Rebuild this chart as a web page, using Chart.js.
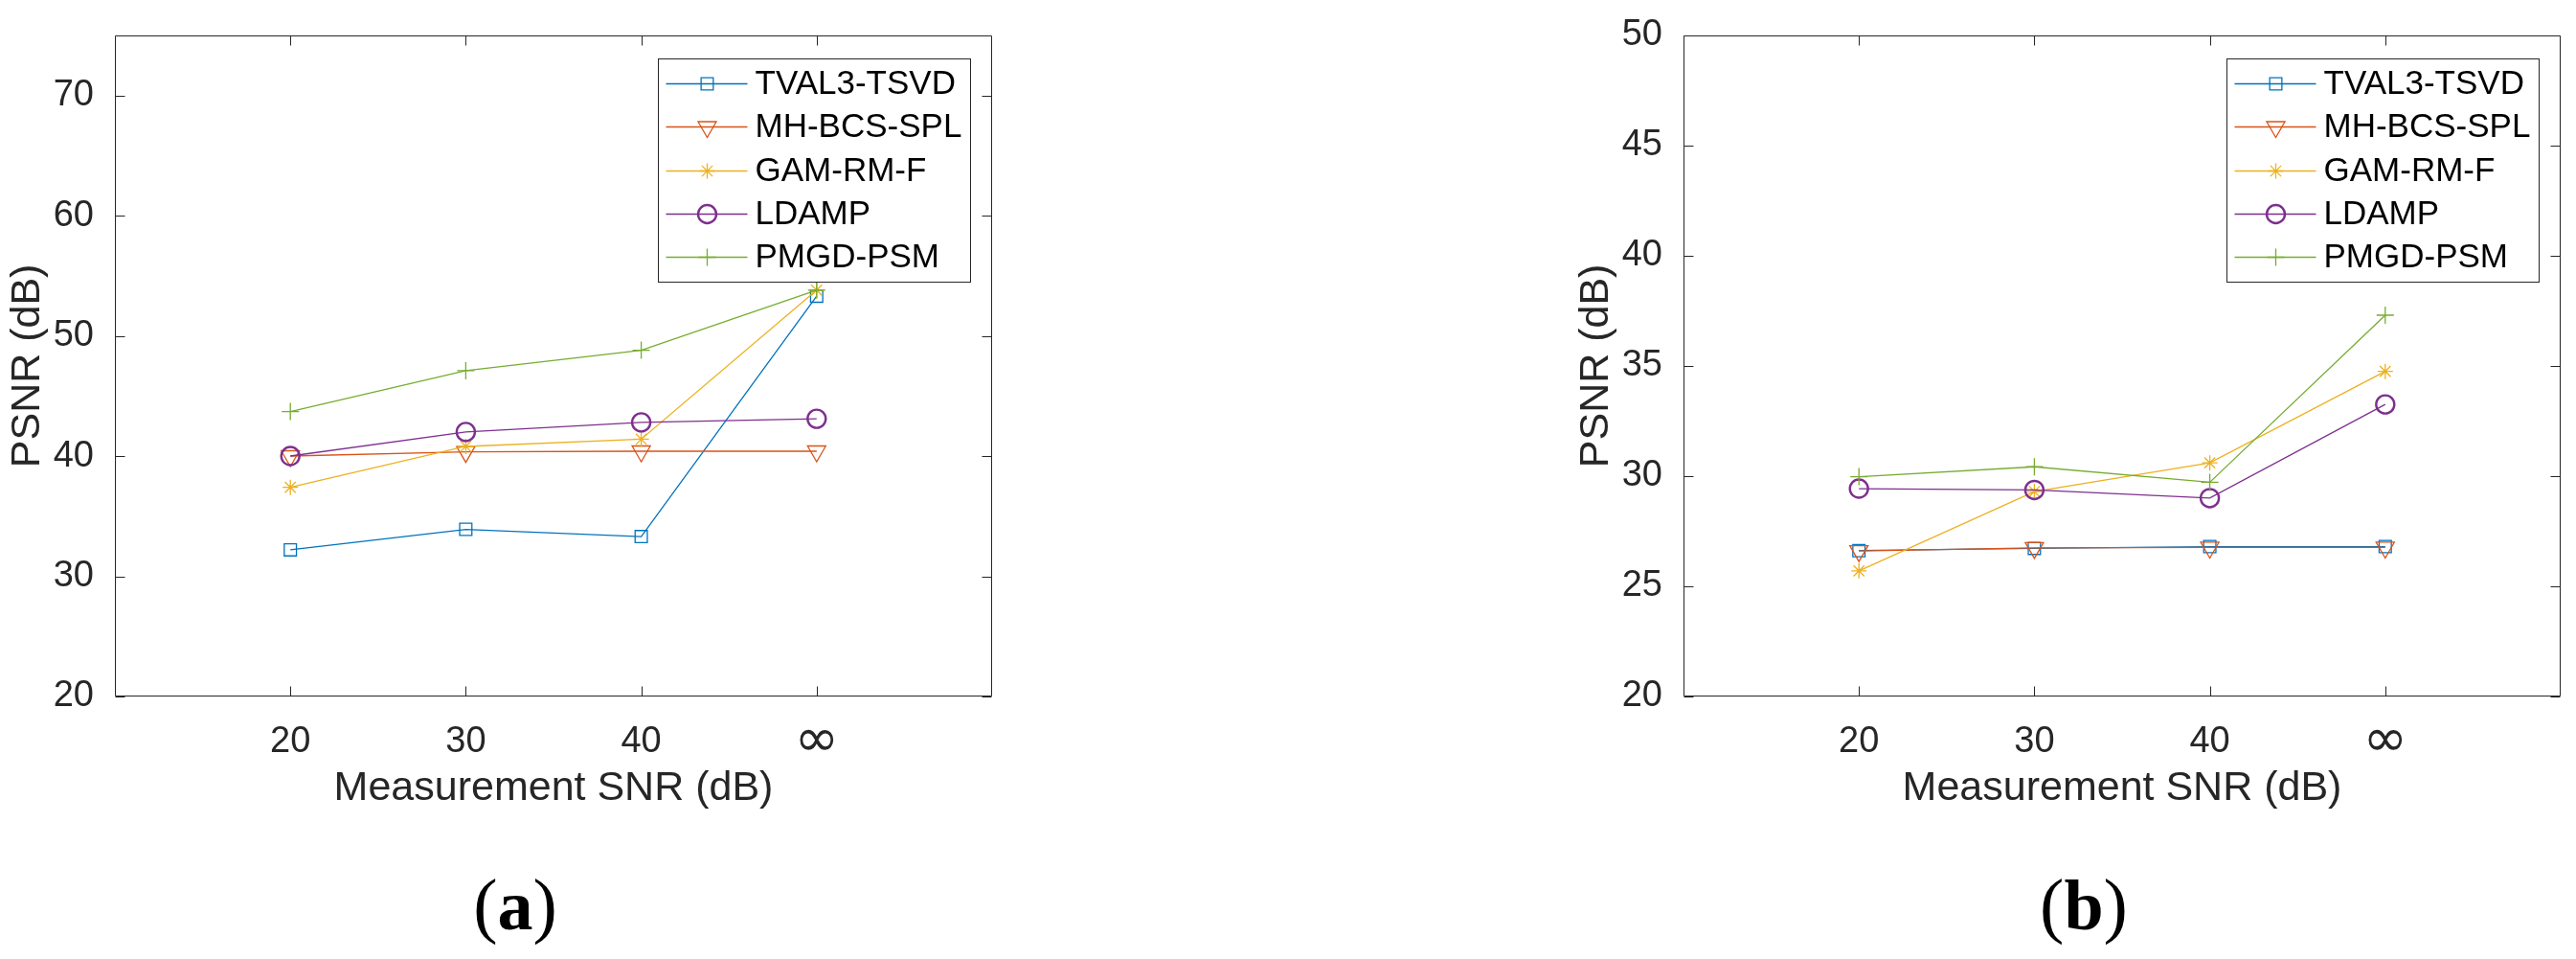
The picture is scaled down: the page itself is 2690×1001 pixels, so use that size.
<!DOCTYPE html>
<html>
<head>
<meta charset="utf-8">
<script src="https://cdn.jsdelivr.net/npm/chart.js@4.4.1/dist/chart.umd.min.js"></script>
<style>
  body { margin: 0; background: #fff; width: 2690px; height: 1001px; position: relative; overflow: hidden; }
  canvas { position: absolute; top: 0; }
</style>
</head>
<body>
<canvas id="chartA" width="1060" height="1001" style="left:0px"></canvas>
<canvas id="chartB" width="1060" height="1001" style="left:1638px"></canvas>
<script>
// x 축 (측정 SNR)
const snrLabels = ['20', '30', '40', '∞'];
const seriesNames = ['TVAL3-TSVD', 'MH-BCS-SPL', 'GAM-RM-F', 'LDAMP', 'PMGD-PSM'];

// (a)
const tvalA = [32.2, 33.9, 33.3, 53.3];
const mhA = [40.0, 40.35, 40.4, 40.4];
const gamA = [37.4, 40.8, 41.4, 53.8];
const ldampA = [40.0, 42.0, 42.8, 43.1];
const pmgdA = [43.7, 47.1, 48.8, 53.8];
const yTicksA = [20, 30, 40, 50, 60, 70];

// (b)
const tvalB = [26.62, 26.72, 26.8, 26.8];
const mhB = [26.6, 26.74, 26.76, 26.76];
const gamB = [25.7, 29.3, 30.6, 34.75];
const ldampB = [29.43, 29.37, 29.0, 33.25];
const pmgdB = [29.97, 30.42, 29.72, 37.3];
const yTicksB = [20, 25, 30, 35, 40, 45, 50];

const FONT = "'Liberation Sans', Arial, Helvetica, sans-serif";
const AXIS_COLOR = '#262626';

const styles = [
  { color: '#0072BD', pointStyle: 'rect', radius: 9, pointBorderWidth: 1.3, rotation: 0 },
  { color: '#D95319', pointStyle: 'triangle', radius: 11, pointBorderWidth: 1.3, rotation: 180 },
  { color: '#EDB120', pointStyle: 'star', radius: 8, pointBorderWidth: 1.3, rotation: 0 },
  { color: '#7E2F8E', pointStyle: 'circle', radius: 9.5, pointBorderWidth: 2.4, rotation: 0 },
  { color: '#77AC30', pointStyle: 'cross', radius: 9, pointBorderWidth: 1.3, rotation: 0 },
];

const makeDatasets = (seriesList) =>
  seriesList.map((values, i) => {
    const s = styles[i];
    return {
      label: seriesNames[i],
      data: values.map((y, k) => ({ x: k + 1, y })),
      borderColor: s.color,
      backgroundColor: 'rgba(0,0,0,0)',
      borderWidth: 1.3,
      tension: 0,
      pointStyle: s.pointStyle,
      pointRadius: s.radius,
      pointHoverRadius: s.radius,
      pointRotation: s.rotation,
      pointBorderColor: s.color,
      pointBackgroundColor: 'rgba(0,0,0,0)',
      pointBorderWidth: s.pointBorderWidth,
      order: seriesList.length - i, // 뒤 시리즈가 위에 그려지도록
      clip: false,
    };
  });

// 박스, 안쪽 눈금, 범례, (a)/(b) 라벨
const matlabBox = {
  id: 'matlabBox',
  afterDraw(chart, args, opts) {
    const { ctx, chartArea: a, scales } = chart;
    const L = Math.round(a.left) + 0.5;
    const R = Math.round(a.right) - 0.5;
    const T = Math.round(a.top) + 0.5;
    const B = Math.round(a.bottom) - 0.5;
    const tick = 10;

    ctx.save();
    ctx.strokeStyle = AXIS_COLOR;
    ctx.lineWidth = 1;
    ctx.beginPath();
    ctx.rect(L, T, R - L, B - T);
    scales.x.ticks.forEach((t) => {
      const px = Math.round(scales.x.getPixelForValue(t.value)) + 0.5;
      ctx.moveTo(px, B); ctx.lineTo(px, B - tick);
      ctx.moveTo(px, T); ctx.lineTo(px, T + tick);
    });
    scales.y.ticks.forEach((t) => {
      const py = Math.round(scales.y.getPixelForValue(t.value)) + 0.5;
      ctx.moveTo(L, py); ctx.lineTo(L + tick, py);
      ctx.moveTo(R, py); ctx.lineTo(R - tick, py);
    });
    ctx.stroke();

    // 범례
    const boxW = 326, boxH = 233;
    const bx = Math.round(a.right - 23 - boxW) + 0.5;
    const by = Math.round(a.top + 24) + 0.5;
    ctx.fillStyle = '#fff';
    ctx.fillRect(bx, by, boxW, boxH);
    ctx.strokeStyle = AXIS_COLOR;
    ctx.strokeRect(bx, by, boxW, boxH);
    chart.data.datasets.forEach((ds, i) => {
      const y = Math.round(by + 25.6 + i * 45.3);
      ctx.strokeStyle = ds.borderColor;
      ctx.lineWidth = ds.borderWidth;
      ctx.beginPath();
      ctx.moveTo(bx + 8, y + 0.5);
      ctx.lineTo(bx + 93, y + 0.5);
      ctx.stroke();
      ctx.fillStyle = 'rgba(0,0,0,0)';
      ctx.lineWidth = ds.pointBorderWidth;
      if (Chart.helpers && Chart.helpers.drawPoint) {
        Chart.helpers.drawPoint(ctx, {
          pointStyle: ds.pointStyle,
          radius: ds.pointRadius,
          rotation: ds.pointRotation,
          borderWidth: ds.pointBorderWidth,
        }, bx + 51, y + 0.5);
      }
      ctx.fillStyle = '#000';
      ctx.font = `35px ${FONT}`;
      ctx.textAlign = 'left';
      ctx.textBaseline = 'middle';
      ctx.fillText(ds.label, bx + 101, y + 1);
    });

    // (a) / (b)
    const serif = "'Liberation Serif', 'Times New Roman', serif";
    const parts = [
      { t: '(', f: `76px ${serif}` },
      { t: opts.panel, f: `bold 74px ${serif}` },
      { t: ')', f: `76px ${serif}` },
    ];
    let total = 0;
    parts.forEach((p) => { ctx.font = p.f; p.w = ctx.measureText(p.t).width; total += p.w; });
    let x = (a.left + a.right) / 2 - 40 - total / 2;
    ctx.fillStyle = '#000';
    ctx.textBaseline = 'alphabetic';
    parts.forEach((p) => { ctx.font = p.f; ctx.fillText(p.t, x, 970); x += p.w; });
    ctx.restore();
  },
};

const makeOptions = (yMin, yMax, yTicks, panel) => ({
  responsive: false,
  animation: false,
  layout: { padding: { top: 25, right: 24, bottom: 0, left: 0 } },
  plugins: {
    legend: { display: false },
    tooltip: { enabled: false },
    matlabBox: { panel },
  },
  scales: {
    x: {
      type: 'linear',
      min: 0,
      max: 5,
      grid: { display: false },
      border: { display: false },
      afterBuildTicks: (s) => { s.ticks = snrLabels.map((_, i) => ({ value: i + 1 })); },
      afterFit: (s) => { s.height = 274; },
      ticks: {
        color: AXIS_COLOR,
        // ∞ 기호는 더 크게 (줄 높이는 숫자와 같게)
        font: (c) => (c.tick && snrLabels[c.tick.value - 1] === '∞'
          ? { family: "'DejaVu Sans', sans-serif", size: 56, lineHeight: 45.6 / 56 }
          : { family: FONT, size: 38 }),
        padding: 17,
        maxRotation: 0,
        autoSkip: false,
        callback: (value) => snrLabels[value - 1] ?? '',
      },
      title: {
        display: true,
        text: 'Measurement SNR (dB)',
        color: AXIS_COLOR,
        font: { family: FONT, size: 43 },
        padding: { top: 0, bottom: 152 },
      },
    },
    y: {
      min: yMin,
      max: yMax,
      grid: { display: false },
      border: { display: false },
      afterBuildTicks: (s) => { s.ticks = yTicks.map((v) => ({ value: v })); },
      afterFit: (s) => { s.width = 120; },
      ticks: {
        color: AXIS_COLOR,
        font: { family: FONT, size: 38 },
        padding: 14,
      },
      title: {
        display: true,
        text: 'PSNR (dB)',
        color: AXIS_COLOR,
        font: { family: FONT, size: 43 },
        padding: { top: 3, bottom: 0 },
      },
    },
  },
});

new Chart(document.getElementById('chartA'), {
  type: 'line',
  data: { datasets: makeDatasets([tvalA, mhA, gamA, ldampA, pmgdA]) },
  options: makeOptions(20, 75, yTicksA, 'a'),
  plugins: [matlabBox],
});

new Chart(document.getElementById('chartB'), {
  type: 'line',
  data: { datasets: makeDatasets([tvalB, mhB, gamB, ldampB, pmgdB]) },
  options: makeOptions(20, 50, yTicksB, 'b'),
  plugins: [matlabBox],
});
</script>
</body>
</html>
